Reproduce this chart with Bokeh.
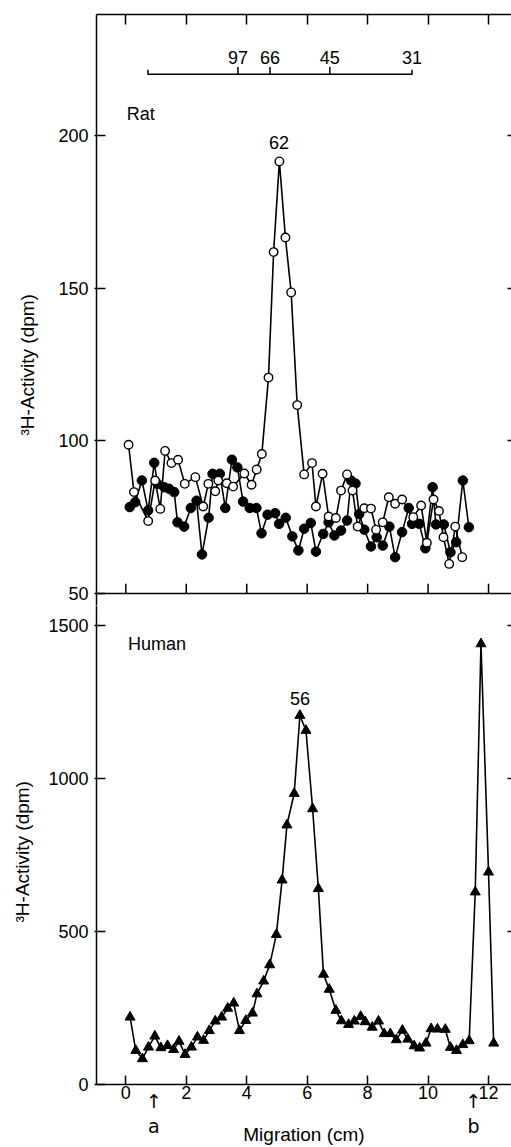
from bokeh.plotting import figure
from bokeh.models import Range1d, LinearAxis, FixedTicker, Label, Span, Title
from bokeh.layouts import column
from bokeh.embed import file_html
from bokeh.resources import INLINE
from bokeh.core.properties import value

FONT = "Liberation Sans"

# ---------------- data ----------------
x_ticks = [0, 2, 4, 6, 8, 10, 12]
rat_ticks = [50, 100, 150, 200]
human_ticks = [0, 500, 1000, 1500]

rat_open_x = [0.09, 0.27, 0.74, 0.97, 1.14, 1.30, 1.51, 1.73, 1.95, 2.30, 2.56, 2.73, 2.96, 3.06,
              3.34, 3.55, 3.92, 4.16, 4.33, 4.50, 4.72, 4.89, 5.08, 5.28, 5.47, 5.67, 5.90, 6.16,
              6.29, 6.51, 6.71, 6.95, 7.12, 7.32, 7.50, 7.67, 7.89, 8.11, 8.28, 8.50, 8.70, 8.91,
              9.14, 9.51, 9.77, 9.96, 10.18, 10.36, 10.51, 10.70, 10.90, 11.13]
rat_open_y = [98.7, 83.2, 73.7, 87.0, 77.7, 96.7, 92.7, 93.8, 85.9, 88.1, 78.5, 85.9, 83.5, 87.0,
              86.1, 85.0, 89.3, 85.6, 90.6, 95.7, 120.7, 161.8, 191.5, 166.6, 148.6, 111.7, 89.0, 92.7,
              78.5, 89.2, 75.2, 74.7, 83.7, 89.0, 83.7, 71.9, 77.9, 77.8, 70.9, 73.3, 81.5, 79.4,
              80.8, 75.0, 78.8, 66.6, 80.8, 77.0, 68.4, 59.7, 71.9, 61.9]

rat_filled_x = [0.13, 0.31, 0.53, 0.74, 0.94, 1.05, 1.27, 1.43, 1.60, 1.71, 1.93, 2.15, 2.34, 2.52,
                2.74, 2.87, 3.11, 3.29, 3.51, 3.69, 3.88, 4.10, 4.32, 4.49, 4.69, 4.94, 5.07, 5.29,
                5.51, 5.71, 5.90, 6.12, 6.29, 6.53, 6.71, 6.90, 7.12, 7.32, 7.45, 7.60, 7.72, 7.89,
                8.11, 8.30, 8.50, 8.72, 8.91, 9.14, 9.36, 9.47, 9.71, 9.91, 10.15, 10.26, 10.52,
                10.74, 10.93, 11.15, 11.35]
rat_filled_y = [78.3, 79.9, 87.0, 77.2, 92.8, 85.9, 84.8, 84.3, 83.2, 73.3, 71.9, 78.0, 80.4, 62.8,
                74.8, 89.2, 89.2, 78.0, 93.8, 91.3, 80.1, 78.0, 78.0, 69.7, 75.8, 76.3, 72.8, 74.8,
                68.7, 64.1, 71.2, 73.1, 63.7, 69.5, 73.3, 69.0, 70.6, 73.9, 87.0, 86.0, 76.0, 70.9,
                65.4, 68.4, 65.7, 71.9, 61.9, 70.1, 78.0, 72.8, 72.8, 64.8, 84.8, 72.6, 72.6,
                63.5, 66.8, 87.0, 71.7]

human_x = [0.14, 0.33, 0.55, 0.75, 0.96, 1.16, 1.38, 1.58, 1.76, 1.96, 2.17, 2.37, 2.57, 2.76,
           2.96, 3.17, 3.37, 3.57, 3.76, 3.97, 4.19, 4.34, 4.56, 4.76, 4.98, 5.17, 5.33, 5.57,
           5.76, 5.96, 6.18, 6.37, 6.54, 6.73, 6.95, 7.13, 7.37, 7.56, 7.77, 7.92, 8.15, 8.36,
           8.55, 8.75, 8.95, 9.15, 9.33, 9.54, 9.72, 9.93, 10.10, 10.31, 10.57, 10.74, 10.94,
           11.15, 11.36, 11.56, 11.75, 12.00, 12.17]
human_y = [220, 111, 84, 122, 158, 120, 127, 114, 141, 98, 122, 155, 144, 176,
           207, 220, 249, 266, 176, 209, 233, 296, 338, 391, 490, 668, 848, 951,
           1206, 1157, 901, 640, 360, 311, 242, 208, 196, 207, 222, 205, 187, 207,
           166, 166, 146, 177, 148, 126, 119, 135, 182, 181, 180, 121, 111,
           130, 143, 629, 1440, 694, 135]

# molecular-weight marker scale (kDa) and its migration positions
mw_labels = ["97", "66", "45", "31"]
mw_pos = [3.71, 4.77, 6.75, 9.47]
mw_start = 0.73
mw_level = 220

# arrows below the axis
arrow_x = [0.93, 11.50]
arrow_labels = ["a", "b"]

Y_LABEL = "\u00b3H-Activity (dpm)"


# ---------------- helpers ----------------
def tick_only_axis(ticks, tin, line=True):
    """axis that draws only inward tick marks (as minor ticks), no labels"""
    ax = LinearAxis(ticker=FixedTicker(ticks=[], minor_ticks=ticks))
    ax.major_tick_in = 0
    ax.major_tick_out = 0
    ax.major_label_standoff = 0
    ax.minor_tick_in = tin
    ax.minor_tick_out = 0
    ax.minor_tick_line_width = 1.5
    ax.minor_tick_line_color = "black"
    ax.axis_line_width = 1.5
    ax.axis_line_color = "black" if line else None
    return ax


def label_axis(ticks, tin, tout, standoff):
    ax = LinearAxis(ticker=FixedTicker(ticks=ticks))
    ax.major_tick_in = tin
    ax.major_tick_out = tout
    ax.minor_tick_line_color = None
    ax.major_tick_line_width = 1.5
    ax.major_tick_line_color = "black"
    ax.axis_line_width = 1.5
    ax.axis_line_color = "black"
    ax.major_label_text_font = FONT
    ax.major_label_text_font_size = "18px"
    ax.major_label_text_color = "black"
    ax.major_label_standoff = standoff
    return ax


def txt(x, y, text, align="center"):
    return Label(x=x, y=y, text=text, text_align=align, text_baseline="middle",
                 text_font=FONT, text_font_size="18px", text_color="black")


def y_title(text, offset, standoff):
    return Title(text=text, align="left", vertical_align="top", offset=offset,
                 standoff=standoff, text_font=FONT, text_font_size="19px",
                 text_font_style="normal", text_color="black")


xr = Range1d(-0.97, 12.76)

# ---------------- top panel (rat) ----------------
p1 = figure(width=511, height=605, x_range=xr, y_range=Range1d(46.07, 239.6),
            x_axis_location=None, y_axis_location=None,
            output_backend="svg", toolbar_location=None,
            min_border_left=96, min_border_right=0, min_border_top=14, min_border_bottom=0,
            outline_line_color=None, background_fill_color="white", border_fill_color="white")
p1.grid.grid_line_color = None

p1.add_layout(label_axis(rat_ticks, 9, 2, 6), "left")
p1.add_layout(y_title(Y_LABEL, 170, 32), "left")
p1.add_layout(tick_only_axis(x_ticks, 10), "above")
p1.add_layout(tick_only_axis([100, 150, 200], 4, line=False), "right")

# panel separator at the bottom of the rat scale, with inward ticks
p1.add_layout(Span(location=rat_ticks[0], dimension="width", line_color="black", line_width=1.5))
p1.segment(x0=x_ticks, y0=[rat_ticks[0]] * len(x_ticks), x1=x_ticks,
           y1=[rat_ticks[0] + 3.2] * len(x_ticks), line_color="black", line_width=1.5)

p1.line(rat_filled_x, rat_filled_y, line_color="black", line_width=1.6)
p1.scatter(rat_filled_x, rat_filled_y, marker="circle", size=9.5,
           fill_color="black", line_color="black")
p1.line(rat_open_x, rat_open_y, line_color="black", line_width=1.6)
p1.scatter(rat_open_x, rat_open_y, marker="circle", size=8.5,
           fill_color="white", line_color="black", line_width=1.4)

# marker bracket
p1.line([mw_start, mw_start, mw_pos[-1], mw_pos[-1]],
        [mw_level + 1.5, mw_level, mw_level, mw_level + 1.5],
        line_color="black", line_width=1.5)
p1.segment(x0=mw_pos[:-1], y0=[mw_level] * 3, x1=mw_pos[:-1], y1=[mw_level + 2.4] * 3,
           line_color="black", line_width=1.5)
p1.text(x=mw_pos, y=[mw_level + 5.6] * len(mw_pos), text=mw_labels,
        text_align="center", text_baseline="middle",
        text_font=value(FONT), text_font_size="18px", text_color="black")

p1.add_layout(txt(0.03, 207, "Rat", align="left"))
p1.add_layout(txt(5.07, 197.7, "62"))

# ---------------- bottom panel (human) ----------------
p2 = figure(width=511, height=542, x_range=xr, y_range=Range1d(0, 1565.4),
            x_axis_location=None, y_axis_location=None,
            output_backend="svg", toolbar_location=None,
            min_border_left=96, min_border_right=0, min_border_top=0, min_border_bottom=63,
            outline_line_color=None, background_fill_color="white", border_fill_color="white")
p2.grid.grid_line_color = None

p2.add_layout(label_axis(human_ticks, 9, 2, 6), "left")
p2.add_layout(y_title(Y_LABEL, 162, 22), "left")

bax = label_axis(x_ticks, 9, 0, 1)
p2.add_layout(bax, "below")

# second row under the axis: arrows "a" and "b" and the axis title
aax = LinearAxis(ticker=FixedTicker(ticks=arrow_x))
aax.major_label_overrides = {xv: "\u2191\n" + lab for xv, lab in zip(arrow_x, arrow_labels)}
aax.major_tick_in = 0
aax.major_tick_out = 0
aax.minor_tick_line_color = None
aax.axis_line_color = None
aax.major_label_text_font = "DejaVu Sans"
aax.major_label_text_font_size = "19px"
aax.major_label_text_color = "black"
aax.major_label_text_line_height = 1.15
aax.major_label_standoff = -12
aax.axis_label = "Migration (cm)"
aax.axis_label_text_font = FONT
aax.axis_label_text_font_size = "19px"
aax.axis_label_text_font_style = "normal"
aax.axis_label_text_color = "black"
aax.axis_label_standoff = -16
p2.add_layout(aax, "below")

p2.add_layout(tick_only_axis([500, 1000, 1500], 4, line=False), "right")

p2.line(human_x, human_y, line_color="black", line_width=1.6)
p2.scatter(human_x, human_y, marker="triangle", size=10,
           fill_color="black", line_color="black")

p2.add_layout(txt(0.07, 1438, "Human", align="left"))
p2.add_layout(txt(5.76, 1262, "56"))

layout = column(p1, p2, spacing=0)
open("out.html", "w").write(file_html(layout, INLINE))
